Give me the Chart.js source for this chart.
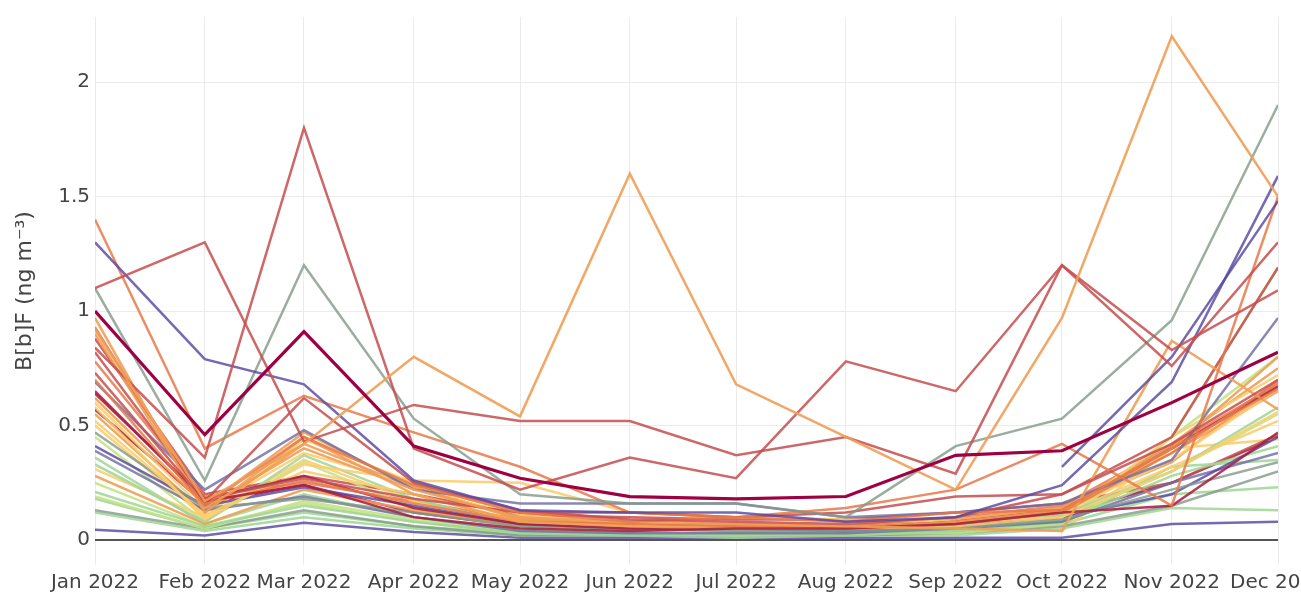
<!DOCTYPE html>
<html>
<head>
<meta charset="utf-8">
<script src="https://cdn.jsdelivr.net/npm/chart.js@4.4.1/dist/chart.umd.min.js"></script>
<style>
  html, body { margin: 0; padding: 0; background: #fff; overflow: hidden; }
  #wrap { position: relative; width: 1332px; height: 597px; }
</style>
</head>
<body>
<div id="wrap"><canvas id="chart"></canvas></div>
<script>
const months = ['Jan 2022', 'Feb 2022', 'Mar 2022', 'Apr 2022', 'May 2022', 'Jun 2022',
    'Jul 2022', 'Aug 2022', 'Sep 2022', 'Oct 2022', 'Nov 2022', 'Dec 2022'];
const yTicks = [0, 0.5, 1, 1.5, 2];

// one array per monitoring site, Jan..Dec 2022 (ng m-3)
const s01 = [1.00, 0.46, 0.91, 0.41, 0.27, 0.19, 0.18, 0.19, 0.37, 0.39, 0.60, 0.82];
const s02 = [0.92, 0.17, 0.42, 0.80, 0.54, 1.60, 0.68, 0.45, 0.22, 0.97, 2.20, 1.50];
const s03 = [0.84, 0.36, 1.80, 0.40, 0.22, 0.36, 0.27, 0.78, 0.65, 1.20, 0.76, 1.30];
const s04 = [1.10, 1.30, 0.43, 0.59, 0.52, 0.52, 0.37, 0.45, 0.29, 1.20, 0.83, 1.09];
const s05 = [1.30, 0.79, 0.68, 0.26, 0.13, 0.12, 0.12, 0.08, 0.10, 0.24, 0.69, 1.59];
const s06 = [null, null, null, null, null, null, null, null, null, 0.32, 0.80, 1.48];
const s07 = [1.10, 0.26, 1.20, 0.53, 0.20, 0.16, 0.16, 0.10, 0.41, 0.53, 0.96, 1.90];
const s08 = [1.40, 0.40, 0.63, 0.47, 0.32, 0.12, 0.10, 0.08, 0.12, 0.13, 0.40, 0.66];
const s09 = [0.73, 0.17, 0.62, 0.25, 0.13, 0.09, 0.08, 0.07, 0.10, 0.20, 0.42, 0.70];
const s10 = [0.70, 0.15, 0.45, 0.24, 0.12, 0.08, 0.10, 0.14, 0.22, 0.42, 0.15, 1.50];
const s11 = [0.90, 0.14, 0.40, 0.22, 0.10, 0.08, 0.07, 0.06, 0.05, 0.04, 0.87, 0.57];
const s12 = [0.82, 0.18, 0.27, 0.18, 0.12, 0.12, 0.10, 0.12, 0.19, 0.20, 0.45, 1.19];
const s13 = [0.65, 0.17, 0.24, 0.10, 0.05, 0.04, 0.05, 0.05, 0.07, 0.12, 0.15, 0.47];
const s14 = [0.69, 0.22, 0.48, 0.22, 0.16, 0.16, 0.16, 0.10, 0.12, 0.16, 0.35, 0.97];
const s15 = [0.97, 0.12, 0.45, 0.20, 0.08, 0.06, 0.05, 0.05, 0.08, 0.13, 0.40, 0.80];
const s16 = [0.93, 0.16, 0.26, 0.16, 0.08, 0.07, 0.06, 0.05, 0.07, 0.12, 0.38, 0.69];
const s17 = [0.64, 0.18, 0.28, 0.14, 0.07, 0.05, 0.05, 0.05, 0.08, 0.13, 0.40, 0.67];
const s18 = [0.58, 0.09, 0.33, 0.26, 0.25, 0.12, 0.10, 0.09, 0.08, 0.10, 0.45, 0.72];
const s19 = [0.52, 0.11, 0.30, 0.20, 0.08, 0.06, 0.05, 0.05, 0.06, 0.10, 0.30, 0.56];
const s20 = [0.47, 0.14, 0.18, 0.12, 0.06, 0.05, 0.04, 0.04, 0.05, 0.09, 0.22, 0.34];
const s21 = [0.41, 0.15, 0.23, 0.15, 0.07, 0.05, 0.05, 0.04, 0.06, 0.10, 0.20, 0.45];
const s22 = [0.39, 0.13, 0.19, 0.10, 0.04, 0.03, 0.03, 0.03, 0.05, 0.08, 0.25, 0.38];
const s23 = [0.33, 0.08, 0.37, 0.18, 0.06, 0.05, 0.04, 0.04, 0.06, 0.11, 0.30, 0.58];
const s24 = [0.31, 0.10, 0.35, 0.17, 0.07, 0.05, 0.05, 0.04, 0.07, 0.12, 0.35, 0.66];
const s25 = [0.28, 0.07, 0.22, 0.13, 0.06, 0.05, 0.05, 0.05, 0.06, 0.13, 0.42, 0.75];
const s26 = [0.21, 0.06, 0.15, 0.08, 0.03, 0.02, 0.02, 0.02, 0.04, 0.08, 0.28, 0.41];
const s27 = [0.19, 0.05, 0.17, 0.09, 0.04, 0.03, 0.02, 0.03, 0.03, 0.07, 0.45, 1.19];
const s28 = [0.13, 0.05, 0.13, 0.06, 0.02, 0.02, 0.02, 0.02, 0.03, 0.06, 0.15, 0.30];
const s29 = [0.12, 0.04, 0.10, 0.05, 0.02, 0.02, 0.01, 0.02, 0.02, 0.05, 0.14, 0.13];
const s30 = [0.045, 0.02, 0.075, 0.035, 0.01, 0.01, 0.01, 0.01, 0.01, 0.01, 0.07, 0.08];
const s31 = [0.55, 0.12, 0.42, 0.23, 0.09, 0.07, 0.06, 0.05, 0.09, 0.14, 0.38, 0.65];
const s32 = [0.50, 0.10, 0.44, 0.25, 0.11, 0.07, 0.06, 0.05, 0.07, 0.11, 0.32, 0.52];
const s33 = [0.45, 0.08, 0.34, 0.14, 0.05, 0.04, 0.04, 0.03, 0.05, 0.09, 0.30, 0.55];
const s34 = [0.36, 0.07, 0.20, 0.10, 0.04, 0.03, 0.03, 0.03, 0.04, 0.07, 0.32, 0.35];
const s35 = [0.78, 0.19, 0.25, 0.17, 0.09, 0.07, 0.07, 0.06, 0.10, 0.15, 0.41, 0.68];
const s36 = [0.88, 0.20, 0.28, 0.20, 0.11, 0.10, 0.09, 0.09, 0.12, 0.16, 0.25, 0.46];
const s37 = [0.25, 0.06, 0.16, 0.08, 0.03, 0.03, 0.02, 0.02, 0.04, 0.08, 0.45, 0.80];
const s38 = [0.60, 0.13, 0.38, 0.24, 0.09, 0.06, 0.05, 0.05, 0.06, 0.04, 0.40, 0.44];
const s39 = [0.18, 0.05, 0.12, 0.06, 0.03, 0.02, 0.02, 0.02, 0.03, 0.07, 0.20, 0.23];
const s40 = [0.62, 0.15, 0.47, 0.23, 0.10, 0.07, 0.06, 0.06, 0.08, 0.14, 0.34, 0.70];
const s41 = [0.57, 0.16, 0.24, 0.12, 0.06, 0.05, 0.04, 0.04, 0.05, 0.11, 0.25, 0.45];

const allSeries = [s01, s02, s03, s04, s05, s06, s07, s08, s09, s10, s11, s12, s13, s14,
    s15, s16, s17, s18, s19, s20, s21, s22, s23, s24, s25, s26, s27, s28, s29, s30, s31,
    s32, s33, s34, s35, s36, s37, s38, s39, s40, s41];

const PUR = 'rgba(88,72,160,0.82)';
const BLU = 'rgba(106,106,165,0.8)';
const GRY = 'rgba(132,155,138,0.82)';
const GRN = 'rgba(160,214,150,0.88)';
const LGN = 'rgba(196,226,132,0.88)';
const YEL = 'rgba(250,205,110,0.88)';
const ORG = 'rgba(240,158,86,0.9)';
const ORD = 'rgba(232,120,74,0.85)';
const RED = 'rgba(198,78,78,0.86)';
const DRD = 'rgba(170,32,64,0.88)';
const CRM = 'rgb(158,1,66)';

const seriesColors = [CRM, ORG, RED, RED, PUR, PUR, GRY, ORD, RED, ORD, ORG, RED, DRD, BLU,
    ORG, ORD, DRD, YEL, YEL, GRY, PUR, BLU, GRN, YEL, ORG, GRN, LGN, GRY, GRN, PUR, ORG,
    YEL, LGN, GRN, ORD, RED, LGN, YEL, GRN, ORG, DRD];

// month starts as day offsets from 1 Jan, so spacing follows month length
const monthStarts = months.map((m, i) => (Date.UTC(2022, i, 1) - Date.UTC(2022, 0, 1)) / 86400000);

const axisFont = { family: 'DejaVu Sans', size: 20 };

const datasets = allSeries.map((vals, i) => ({
    data: vals.map((v, j) => ({ x: monthStarts[j], y: v })),
    borderColor: seriesColors[i],
    borderWidth: i === 0 ? 3.2 : 2.5,
    pointRadius: 0,
    tension: 0,
    fill: false,
}));

new Chart(document.getElementById('chart'), {
    type: 'line',
    data: { datasets: datasets },
    options: {
        responsive: true,
        maintainAspectRatio: false,
        animation: false,
        layout: { padding: { top: 2, left: 0, right: 0, bottom: 0 } },
        plugins: { legend: { display: false }, tooltip: { enabled: false } },
        scales: {
            x: {
                type: 'linear',
                min: monthStarts[0],
                max: monthStarts[monthStarts.length - 1],
                afterBuildTicks: (s) => { s.ticks = monthStarts.map(v => ({ value: v })); },
                afterFit: (s) => { s.height = 32; },
                ticks: {
                    autoSkip: false,
                    maxRotation: 0,
                    padding: 6,
                    color: '#444',
                    font: axisFont,
                    callback: (v) => months[monthStarts.indexOf(v)],
                },
                grid: { color: '#ebebeb', drawTicks: false },
                border: { display: false },
            },
            y: {
                min: -0.109,
                max: 2.284,
                afterBuildTicks: (s) => { s.ticks = yTicks.map(v => ({ value: v })); },
                afterFit: (s) => { s.width = 95; },
                ticks: {
                    padding: 5,
                    color: '#444',
                    font: axisFont,
                    callback: (v) => String(v),
                },
                grid: {
                    drawTicks: false,
                    color: (ctx) => (ctx.tick && ctx.tick.value === 0 ? '#555' : '#ebebeb'),
                    lineWidth: (ctx) => (ctx.tick && ctx.tick.value === 0 ? 2 : 1),
                },
                border: { display: false },
                title: {
                    display: true,
                    text: 'B[b]F (ng m⁻³)',
                    color: '#444',
                    font: { family: 'DejaVu Sans', size: 22 },
                    padding: { top: 12, bottom: 0 },
                },
            },
        },
    },
});
</script>
</body>
</html>
